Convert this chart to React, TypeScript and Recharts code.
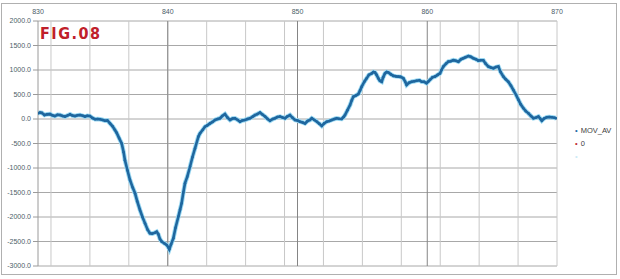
import React from "react";
import {
  LineChart,
  Line,
  XAxis,
  YAxis,
  CartesianGrid,
  ReferenceLine,
} from "recharts";

const xValues: number[] = [
  830.0, 830.15, 830.3, 830.5, 830.7, 830.93, 831.1, 831.3, 831.5, 831.7, 831.9,
  832.08, 832.3, 832.47, 832.65, 832.85, 833.05, 833.24, 833.45, 833.62, 833.8,
  834.0, 834.2, 834.4, 834.6, 834.78, 835.0, 835.16, 835.35, 835.55, 835.75,
  835.93, 836.06, 836.25, 836.45, 836.6, 836.7, 836.9, 837.09, 837.3, 837.48,
  837.65, 837.86, 838.05, 838.25, 838.45, 838.63, 838.8, 839.02, 839.15, 839.27,
  839.4, 839.53, 839.75, 839.92, 840.05, 840.12, 840.25, 840.43, 840.6, 840.82,
  840.95, 841.07, 841.2, 841.33, 841.5, 841.72, 841.9, 842.1, 842.36, 842.49,
  842.7, 842.87, 843.05, 843.26, 843.45, 843.64, 843.85, 844.03, 844.2, 844.41,
  844.6, 844.8, 845.0, 845.18, 845.4, 845.57, 845.75, 845.95, 846.15, 846.34,
  846.55, 846.72, 846.9, 847.11, 847.3, 847.5, 847.7, 847.88, 848.1, 848.27,
  848.45, 848.65, 848.85, 849.04, 849.2, 849.42, 849.6, 849.81, 850.0, 850.2,
  850.4, 850.58, 850.78, 850.96, 851.1, 851.3, 851.5, 851.7, 851.87, 852.05,
  852.25, 852.45, 852.64, 852.85, 853.02, 853.2, 853.4, 853.55, 853.66, 853.85,
  854.05, 854.18, 854.3, 854.5, 854.69, 854.82, 854.95, 855.15, 855.33, 855.5,
  855.72, 855.85, 855.97, 856.1, 856.23, 856.35, 856.49, 856.6, 856.74, 856.87,
  857.0, 857.2, 857.39, 857.6, 857.77, 857.95, 858.16, 858.3, 858.41, 858.6,
  858.8, 859.0, 859.18, 859.4, 859.57, 859.75, 859.95, 860.1, 860.21, 860.4,
  860.6, 860.8, 860.98, 861.1, 861.24, 861.45, 861.62, 861.8, 862.01, 862.2,
  862.4, 862.6, 862.78, 862.95, 863.17, 863.35, 863.55, 863.75, 863.94, 864.1,
  864.32, 864.5, 864.71, 864.9, 865.1, 865.3, 865.48, 865.65, 865.87, 866.05,
  866.25, 866.45, 866.64, 866.85, 867.03, 867.2, 867.41, 867.6, 867.8, 868.0,
  868.18, 868.4, 868.57, 868.7, 868.83, 869.0, 869.21, 869.4, 869.6, 869.8,
  869.93,
];

const movAvValues: number[] = [
  115, 130, 125, 80, 95, 100, 75, 60, 85, 80, 60,
  50, 75, 95, 70, 60, 75, 80, 65, 50, 65,
  60, 20, -5, 0, -5, -20, -35, -30, -90, -150,
  -225, -280, -390, -500, -680, -840, -1050, -1245, -1400, -1516,
  -1680, -1857, -2000, -2130, -2260, -2333, -2340, -2320, -2300, -2350,
  -2450, -2500, -2540, -2570, -2620, -2660, -2560, -2435, -2220, -1990,
  -1850, -1720, -1500, -1310, -1180, -970, -780, -600, -360, -290,
  -220, -157, -130, -90, -60, -20, 0, 15, 60, 100,
  30, -20, 10, 15, -20, -55, -30, -20, 0, 15,
  50, 80, 100, 130, 90, 50, 0, -35, 0, 15,
  40, 50, 30, 15, 50, 80, 30, -20, -30, -55,
  -70, -90, -40, -20, 15, -20, -55, -100, -140, -90,
  -55, -40, -20, 0, 15, 5, 0, 40, 80, 180,
  285, 380, 455, 480, 510, 580, 660, 760, 830, 900,
  930, 960, 950, 900, 830, 780, 760, 850, 930, 960,
  950, 910, 880, 870, 865, 860, 830, 760, 695, 740,
  760, 770, 780, 790, 760, 760, 730, 770, 800, 850,
  865, 900, 930, 1000, 1070, 1130, 1170, 1180, 1200, 1190,
  1170, 1220, 1240, 1260, 1285, 1270, 1240, 1220, 1190, 1200,
  1200, 1130, 1070, 1050, 1035, 1060, 1070, 960, 865, 810,
  760, 680, 590, 490, 390, 300, 220, 160, 115, 60,
  15, 30, 50, 10, -35, 10, 35, 40, 35, 25,
  15,
];

const xTicks: number[] = [830, 840, 850, 860, 870];
const yTicks: number[] = [-3000, -2500, -2000, -1500, -1000, -500, 0, 500, 1000, 1500, 2000];
const minorX: number[] = [
  830, 831, 832, 833, 834, 835, 836, 837, 838, 839, 840, 841, 842, 843, 844, 845,
  846, 847, 848, 849, 850, 851, 852, 853, 854, 855, 856, 857, 858, 859, 860, 861,
  862, 863, 864, 865, 866, 867, 868, 869, 870,
];
const majorX: number[] = [840, 850, 860];
const legendItems: { name: string; color: string }[] = [
  { name: "MOV_AV", color: "#1f6aa5" },
  { name: "0", color: "#c0282d" },
  { name: "", color: "#cdebf6" },
];

const data = xValues.map((x, i) => ({ x, MOV_AV: movAvValues[i] }));

const axisFont = { fontSize: 7, fill: "#4b5d68", fontFamily: "Liberation Sans, Arial, sans-serif" };

export default function App() {
  return (
    <div style={{ position: "absolute", left: 0, top: 0, width: 620, height: 279, background: "#fff" }}>
      <div
        style={{
          position: "absolute",
          left: 1,
          top: 3,
          width: 614,
          height: 270,
          border: "1px solid #b0b0b0",
        }}
      />
      <LineChart width={620} height={279} data={data} margin={{ top: 7, right: 63, bottom: 13, left: 2 }}>
        <CartesianGrid vertical={false} stroke="#a8a8a8" horizontalValues={yTicks} />
        <CartesianGrid horizontal={false} stroke="#c8c8c8" verticalValues={minorX} />
        {majorX.map((v) => (
          <ReferenceLine key={v} x={v} stroke="#858585" strokeWidth={1} />
        ))}
        <XAxis
          dataKey="x"
          type="number"
          orientation="top"
          domain={[830, 870]}
          ticks={xTicks}
          height={14}
          tickSize={0}
          tickMargin={7}
          axisLine={false}
          tickLine={false}
          tick={axisFont}
          allowDataOverflow
        />
        <YAxis
          type="number"
          domain={[-3000, 2000]}
          ticks={yTicks}
          width={36}
          tickSize={5}
          tickMargin={2}
          axisLine={{ stroke: "#9a9a9a" }}
          tickLine={{ stroke: "#9a9a9a" }}
          tick={axisFont}
          tickFormatter={(v: number) => v.toFixed(1)}
          interval={0}
        />
        <Line
          dataKey="MOV_AV"
          stroke="#9ad8f2"
          strokeWidth={4.5}
          dot={false}
          isAnimationActive={false}
        />
        <Line
          dataKey="MOV_AV"
          name="MOV_AV"
          stroke="#1f679f"
          strokeWidth={2.6}
          dot={{ r: 1.3, fill: "#1f679f", stroke: "none" }}
          isAnimationActive={false}
        />
      </LineChart>
      <div
        style={{
          position: "absolute",
          left: 575,
          top: 124,
          fontFamily: "Liberation Sans, Arial, sans-serif",
          fontSize: 7.5,
          color: "#404040",
          lineHeight: "13px",
        }}
      >
        {legendItems.map((it, i) => (
          <div key={i} style={{ height: 13 }}>
            <span style={{ color: it.color, marginRight: 3 }}>•</span>
            {it.name}
          </div>
        ))}
      </div>
      <div
        style={{
          position: "absolute",
          left: 40,
          top: 24,
          fontFamily: "DejaVu Sans Condensed, DejaVu Sans, sans-serif",
          fontSize: 16,
          fontWeight: "bold",
          letterSpacing: 1.5,
          color: "#c0202a",
          lineHeight: "20px",
        }}
      >
        FIG.08
      </div>
    </div>
  );
}
